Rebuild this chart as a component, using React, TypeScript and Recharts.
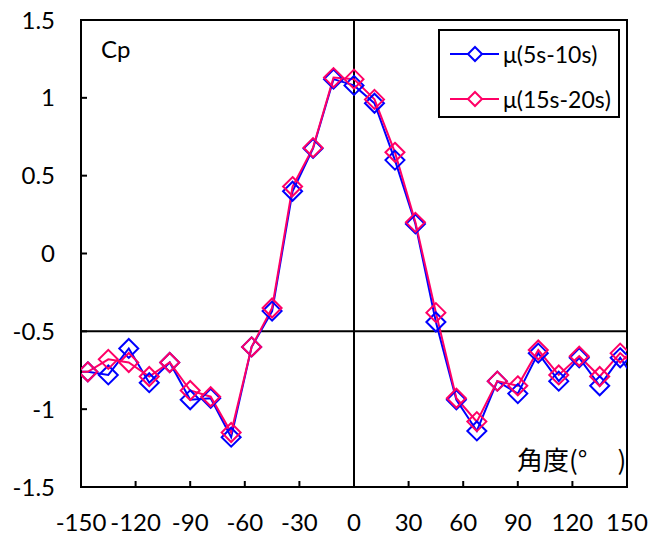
import React from 'react'
import {
  LineChart,
  Line,
  XAxis,
  YAxis,
  ReferenceLine,
  ReferenceArea,
  Legend
} from 'recharts'

// wind angle around the section, degrees
const angles = [
  -157.5, -146.25, -135, -123.75, -112.5, -101.25, -90, -78.75, -67.5, -56.25,
  -45, -33.75, -22.5, -11.25, 0, 11.25, 22.5, 33.75, 45, 56.25, 67.5, 78.75,
  90, 101.25, 112.5, 123.75, 135, 146.25, 157.5
]

// mean pressure coefficient, 5s-10s window
const cpEarly = [
  -0.76, -0.76, -0.78, -0.61, -0.83, -0.7, -0.94, -0.93, -1.18, -0.6,
  -0.37, 0.4, 0.675, 1.12, 1.08, 0.965, 0.6, 0.19, -0.44, -0.94, -1.14, -0.82,
  -0.9, -0.64, -0.82, -0.67, -0.85, -0.67, -0.86
]

// mean pressure coefficient, 15s-20s window
const cpLate = [
  -0.76, -0.76, -0.68, -0.7, -0.79, -0.7, -0.88, -0.92, -1.15, -0.6,
  -0.35, 0.43, 0.68, 1.13, 1.12, 0.99, 0.65, 0.2, -0.38, -0.93, -1.08, -0.82,
  -0.85, -0.62, -0.78, -0.66, -0.79, -0.64, -0.76
]

const xTicks = [-150, -120, -90, -60, -30, 0, 30, 60, 90, 120, 150]
const yTicks = [-1.5, -1, -0.5, 0, 0.5, 1, 1.5]

const seriesNames = ['μ(5s-10s)', 'μ(15s-20s)']
const seriesColors = ['#0000FF', '#FF0066']

const data = angles.map((a, i) => ({ angle: a, early: cpEarly[i], late: cpLate[i] }))

const FONT = 'Lato, "Open Sans", sans-serif'
const MARK = 9.5

// hollow diamond marker
const Diamond = (props: any) => {
  const { cx, cy, stroke } = props
  if (cx == null || cy == null) return null
  return (
    <path
      d={`M${cx},${cy - MARK}L${cx + MARK},${cy}L${cx},${cy + MARK}L${cx - MARK},${cy}Z`}
      fill="none"
      stroke={stroke}
      strokeWidth={2}
    />
  )
}

const LegendBox = ({ payload }: any) => {
  const items = [...(payload || [])].sort(
    (a: any, b: any) => seriesNames.indexOf(a.value) - seriesNames.indexOf(b.value)
  )
  return (
    <div
      style={{
        width: 178,
        height: 85,
        border: '2px solid #000',
        background: '#fff',
        fontFamily: FONT,
        fontSize: 23,
        position: 'relative'
      }}
    >
      {items.map((p: any, i: number) => (
        <div
          key={p.value}
          style={{
            position: 'absolute',
            left: 0,
            top: 8 + i * 45,
            height: 30,
            display: 'flex',
            alignItems: 'center',
            whiteSpace: 'nowrap'
          }}
        >
          <svg width={63} height={30}>
            <line x1={10} y1={15} x2={59} y2={15} stroke={p.color} strokeWidth={2} />
            <path d="M35,8L42,15L35,22L28,15Z" fill="#fff" stroke={p.color} strokeWidth={2} />
          </svg>
          <span style={{ color: '#000' }}>{p.value}</span>
        </div>
      ))}
    </div>
  )
}

export default function App() {
  return (
    <div style={{ position: 'absolute', left: 0, top: 0, width: 651, height: 540, background: '#fff' }}>
      <LineChart
        width={651}
        height={540}
        data={data}
        margin={{ top: 20, right: 24, bottom: 13, left: 21 }}
      >
        <ReferenceArea
          x1={-150}
          x2={150}
          y1={-1.5}
          y2={1.5}
          fill="none"
          stroke="#000"
          strokeWidth={2}
          ifOverflow="visible"
        />
        <XAxis
          dataKey="angle"
          type="number"
          domain={[-150, 150]}
          ticks={xTicks}
          allowDataOverflow
          height={40}
          tickSize={-6}
          tickMargin={33}
          axisLine={{ stroke: '#000', strokeWidth: 2 }}
          tickLine={{ stroke: '#000', strokeWidth: 2 }}
          tick={{ fill: '#000', fontSize: 24, fontFamily: FONT }}
          interval={0}
        />
        <YAxis
          type="number"
          domain={[-1.5, 1.5]}
          ticks={yTicks}
          allowDataOverflow
          width={60}
          tickSize={-6}
          tickMargin={32}
          axisLine={{ stroke: '#000', strokeWidth: 2 }}
          tickLine={{ stroke: '#000', strokeWidth: 2 }}
          tick={{ fill: '#000', fontSize: 24, fontFamily: FONT }}
          interval={0}
        />
        <ReferenceLine x={0} stroke="#000" strokeWidth={2} />
        <ReferenceLine y={-0.5} stroke="#000" strokeWidth={2} />
        <Line
          dataKey="early"
          name={seriesNames[0]}
          stroke={seriesColors[0]}
          strokeWidth={2}
          dot={<Diamond />}
          activeDot={false}
          isAnimationActive={false}
        />
        <Line
          dataKey="late"
          name={seriesNames[1]}
          stroke={seriesColors[1]}
          strokeWidth={2}
          dot={<Diamond />}
          activeDot={false}
          isAnimationActive={false}
        />
        <Legend
          layout="horizontal"
          verticalAlign="middle"
          align="center"
          content={<LegendBox />}
          wrapperStyle={{ left: 438, top: 29, width: 182, height: 89 }}
        />
      </LineChart>
      <div
        style={{
          position: 'absolute',
          left: 101,
          top: 34,
          fontFamily: FONT,
          fontSize: 24,
          color: '#000'
        }}
      >
        Cp
      </div>
      <div
        style={{
          position: 'absolute',
          left: 517,
          top: 440,
          fontFamily: '"Noto Sans CJK JP", sans-serif',
          fontSize: 26,
          color: '#000',
          whiteSpace: 'nowrap'
        }}
      >
        角度(°<span style={{ marginLeft: 30 }}>)</span>
      </div>
    </div>
  )
}
